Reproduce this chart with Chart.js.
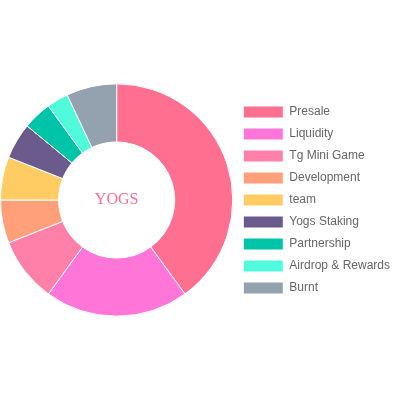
<!DOCTYPE html>
<html>
<head>
<meta charset="utf-8">
<script src="https://cdn.jsdelivr.net/npm/chart.js@4"></script>
<style>
  html, body { margin: 0; padding: 0; background: #fff; }
  #wrap { width: 400px; height: 400px; position: relative; }
</style>
</head>
<body>
<div id="wrap"><canvas id="yogs-grafica"></canvas></div>
<script>
const etiquetas = ['Presale', 'Liquidity', 'Tg Mini Game', 'Development', 'team', 'Yogs Staking', 'Partnership', 'Airdrop & Rewards', 'Burnt'];
const porcentajes = [40, 20, 9, 6, 6, 5, 4, 3, 7];
const colores = ['#FF6F8F', '#FF75D8', '#FF80A8', '#FFA07A', '#FFCB63', '#6B5A8C', '#00C4A7', '#4FFBDB', '#94A1AF'];
const textoCentro = 'YOGS';

(function () {
  const centro = {
    id: 'centro',
    afterDraw(chart) {
      const meta = chart.getDatasetMeta(0).data[0];
      if (!meta) return;
      const c = chart.ctx;
      c.save();
      c.font = '16px "Liberation Serif", "Times New Roman", serif';
      c.fillStyle = '#FF6F8F';
      c.textAlign = 'center';
      c.textBaseline = 'middle';
      c.fillText(textoCentro, meta.x, meta.y);
      c.restore();
    }
  };

  const ctx = document.getElementById('yogs-grafica');
  new Chart(ctx, {
    type: 'doughnut',
    data: {
      labels: etiquetas,
      datasets: [{
        data: porcentajes,
        backgroundColor: colores,
        borderColor: '#fff',
        borderWidth: 1
      }]
    },
    options: {
      responsive: true,
      maintainAspectRatio: false,
      animation: false,
      cutout: '50%',
      plugins: {
        legend: {
          position: 'right',
          labels: {
            color: '#666',
            font: { family: '"Liberation Sans", Arial, sans-serif', size: 12 },
            boxWidth: 40,
            padding: 10
          }
        },
        tooltip: { enabled: false }
      }
    },
    plugins: [centro]
  });
})();
</script>
</body>
</html>
